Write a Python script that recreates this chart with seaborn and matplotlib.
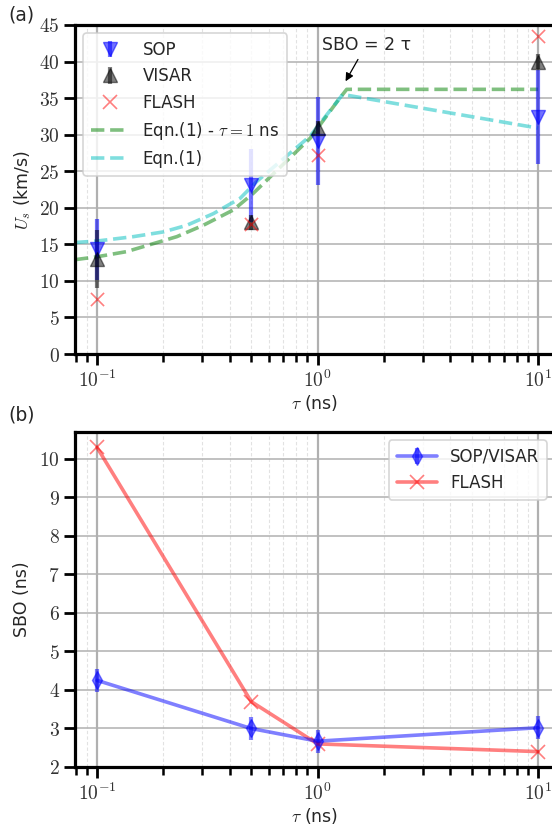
import numpy as np
import pandas as pd
import matplotlib
matplotlib.use("Agg")
import matplotlib.pyplot as plt
from matplotlib.ticker import FuncFormatter, LogLocator, MultipleLocator
from matplotlib.lines import Line2D
import seaborn as sns

# ---------------- data ----------------
tau = [0.1, 0.5, 1.0, 10.0]
sop_us = [14.3, 23.1, 29.1, 32.4]
sop_err = [4.2, 5.0, 6.0, 6.4]
visar_us = [13.0, 18.0, 30.9, 40.0]
visar_err = [4.0, 1.0, 1.0, 1.0]
flash_us = [7.5, 17.8, 27.2, 43.5]

eqn_fixed_tau = [0.0794, 0.1, 0.136, 0.23, 0.303, 0.415, 0.512, 0.925, 1.24, 1.356, 10.0]
eqn_fixed_us = [12.9, 13.3, 14.0, 16.05, 17.6, 19.7, 22.0, 29.5, 34.7, 36.2, 36.2]
eqn_tau = [0.0794, 0.1, 0.146, 0.2, 0.255, 0.337, 0.446, 0.53, 0.925, 1.3, 10.0]
eqn_us = [15.25, 15.45, 16.05, 16.7, 17.6, 19.2, 21.3, 23.6, 29.8, 35.5, 30.9]

sbo_obs = [4.25, 3.0, 2.67, 3.02]
sbo_err = [0.3, 0.3, 0.3, 0.3]
sbo_flash = [10.3, 3.7, 2.6, 2.4]

# ---------------- style ----------------
sns.set_style("whitegrid")
plt.rcParams["font.family"] = ["DejaVu Sans"]
plt.rcParams["mathtext.fontset"] = "cm"
plt.rcParams["axes.unicode_minus"] = False

fig = plt.figure(figsize=(5.52, 8.26), dpi=100)
W, H = 552.0, 826.0
ax1 = fig.add_axes([75 / W, 1 - 354 / H, 480 / W, 329 / H])
ax2 = fig.add_axes([75 / W, 1 - 767 / H, 480 / W, 335 / H])

xlim = (10 ** -1.1, 10 ** 1.077)


def style_axes(ax):
    ax.set_xscale("log")
    ax.set_xlim(*xlim)
    ax.set_facecolor("white")
    for s in ["left", "bottom", "top"]:
        ax.spines[s].set_visible(True)
        ax.spines[s].set_color("black")
        ax.spines[s].set_linewidth(2.3)
    ax.spines["right"].set_visible(False)
    ax.xaxis.set_major_locator(LogLocator(base=10, numticks=10))
    ax.xaxis.set_minor_locator(LogLocator(base=10, subs=np.arange(2, 10), numticks=20))
    ax.xaxis.set_major_formatter(FuncFormatter(lambda v, p: r"$10^{%d}$" % int(round(np.log10(v)))))
    ax.xaxis.set_minor_formatter(FuncFormatter(lambda v, p: ""))
    ax.yaxis.set_major_formatter(FuncFormatter(lambda v, p: r"$%g$" % v))
    ax.tick_params(axis="both", which="major", direction="out", length=8, width=2,
                   color="black", labelsize=14, left=True, bottom=True, pad=3,
                   labelcolor="#333333")
    ax.tick_params(axis="x", which="minor", direction="out", length=5.5, width=1.8,
                   color="black", bottom=True)
    ax.grid(False)
    ax.grid(True, axis="y", which="major", color="#b0b0b0", lw=1.1, ls="-")
    ax.grid(True, axis="x", which="major", color="#b0b0b0", lw=1.6, ls="-")
    ax.grid(True, axis="x", which="minor", color="#e2e2e2", lw=0.8, ls=(0, (3, 2)))
    ax.set_axisbelow(True)
    ax.set_xlabel(r"$\tau$ (ns)", fontsize=12.5, labelpad=2)


# ---------------- panel (a) ----------------
style_axes(ax1)
ax1.set_ylim(0, 45)
ax1.yaxis.set_major_locator(MultipleLocator(5))

h_sop = ax1.errorbar(tau, sop_us, yerr=sop_err, fmt="v", color="blue", ecolor="blue",
                     alpha=0.55, ms=10, elinewidth=3, capsize=0, label="SOP", zorder=3)
h_vis = ax1.errorbar(tau, visar_us, yerr=visar_err, fmt="^", color="black", ecolor="black",
                     alpha=0.5, ms=10, elinewidth=3, capsize=0, label="VISAR", zorder=3)
sns.scatterplot(x=tau, y=flash_us, ax=ax1, marker="x", color="red", alpha=0.5, s=90,
                linewidth=1.2, label="FLASH", zorder=4, legend=False)
sns.lineplot(x=eqn_fixed_tau, y=eqn_fixed_us, ax=ax1, color="green", alpha=0.5, lw=2.6,
             linestyle="--", sort=False, legend=False, zorder=2)
sns.lineplot(x=eqn_tau, y=eqn_us, ax=ax1, color="c", alpha=0.5, lw=2.6,
             linestyle="--", sort=False, legend=False, zorder=2)

h_flash = Line2D([], [], marker="x", color="red", alpha=0.5, ms=10, ls="none", mew=1.2)
h_g = Line2D([], [], color="green", alpha=0.5, lw=2.6, ls="--")
h_c = Line2D([], [], color="c", alpha=0.5, lw=2.6, ls="--")
leg1 = ax1.legend([h_sop, h_vis, h_flash, h_g, h_c],
                  ["SOP", "VISAR", "FLASH", r"Eqn.(1) - $\tau=1$ ns", "Eqn.(1)"],
                  loc="upper left", fontsize=12, frameon=True, fancybox=True,
                  framealpha=0.8, edgecolor="#cccccc", borderpad=0.45, labelspacing=0.5,
                  handlelength=2.3, handletextpad=0.8)
leg1.get_frame().set_linewidth(1.2)

ax1.annotate("SBO = 2 τ", xy=(1.34, 37.3), xytext=(1.045, 42.3), fontsize=12.5,
             va="center", ha="left",
             arrowprops=dict(arrowstyle="-|>", color="black", lw=0.9, mutation_scale=12,
                             shrinkA=2, shrinkB=0))
ax1.set_ylabel(r"$U_s$ (km/s)", fontsize=12.5, labelpad=4)

# ---------------- panel (b) ----------------
style_axes(ax2)
h_obs = ax2.errorbar(tau, sbo_obs, yerr=sbo_err, fmt="-d", color="blue", ecolor="blue",
                     alpha=0.5, ms=9, lw=2.6, elinewidth=3, capsize=0,
                     label="SOP/VISAR", zorder=3)
sns.lineplot(x=tau, y=sbo_flash, ax=ax2, color="red", alpha=0.5, lw=2.6, marker="x",
             markersize=10, mew=1.2, mec="red", sort=False, legend=False, zorder=3)
ax2.yaxis.set_major_locator(MultipleLocator(1))
ax2.set_ylim(2.0, 10.7)
h_fl2 = Line2D([], [], marker="x", color="red", alpha=0.5, ms=10, lw=2.6, mew=1.2)
leg2 = ax2.legend([h_obs, h_fl2], ["SOP/VISAR", "FLASH"], loc="upper right",
                  fontsize=12, frameon=True, fancybox=True, framealpha=0.8,
                  edgecolor="#cccccc", borderpad=0.45, labelspacing=0.5,
                  handlelength=2.4, handletextpad=0.8)
leg2.get_frame().set_linewidth(1.2)
ax2.set_ylabel("SBO (ns)", fontsize=12.5, labelpad=6)

fig.text(8 / W, 1 - 15 / H, "(a)", fontsize=13.5, ha="left", va="center")
fig.text(8 / W, 1 - 415 / H, "(b)", fontsize=13.5, ha="left", va="center")

fig.savefig("out.png", dpi=100)
